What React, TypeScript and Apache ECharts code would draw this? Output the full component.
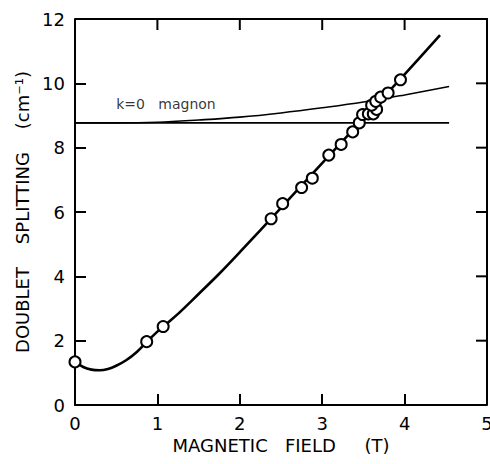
import React, { useEffect, useRef } from "react";
import * as echarts from "echarts";

// Measured doublet splitting (circles)
const obsField = [0, 0.87, 1.07, 2.38, 2.52, 2.75, 2.88, 3.08, 3.23, 3.37, 3.45, 3.49, 3.56, 3.62, 3.66, 3.6, 3.65, 3.71, 3.8, 3.95];
const obsSplit = [1.34, 1.97, 2.44, 5.79, 6.26, 6.76, 7.05, 7.77, 8.1, 8.49, 8.77, 9.03, 9.05, 9.05, 9.19, 9.32, 9.44, 9.57, 9.7, 10.11];

// Fitted curve
const fitField = [0, 0.1, 0.2, 0.3, 0.4, 0.5, 0.62, 0.75, 0.87, 1.0, 1.1, 1.27, 1.5, 1.75, 2.0, 2.5, 3.0, 3.5, 4.0, 4.43];
const fitSplit = [1.35, 1.18, 1.1, 1.08, 1.12, 1.22, 1.39, 1.65, 1.96, 2.28, 2.5, 2.88, 3.45, 4.08, 4.75, 6.13, 7.52, 8.9, 10.28, 11.5];

// k=0 magnon curve
const magField = [0, 0.5, 1.0, 1.5, 2.0, 2.5, 3.0, 3.5, 4.0, 4.54];
const magSplit = [8.77, 8.77, 8.79, 8.86, 8.95, 9.08, 9.24, 9.42, 9.64, 9.9];

// Flat reference level
const flatField = [0, 4.54];
const flatSplit = [8.77, 8.77];

const xTicks = [0, 1, 2, 3, 4, 5];
const yTicks = [0, 2, 4, 6, 8, 10, 12];
const magnonLabel = "k=0   magnon";
const magnonLabelAt = [0.5, 9.35];

const FONT = "DejaVu Sans";

export default function App() {
  const ref = useRef<HTMLDivElement>(null);
  useEffect(() => {
    if (!ref.current) return;
    const chart = echarts.init(ref.current, undefined, { renderer: "svg" });
    const mkLine = () => ({ show: true, onZero: false, lineStyle: { color: "#000", width: 2 } });
    const mkTick = () => ({ show: true, inside: true, length: 11, lineStyle: { color: "#000", width: 2 } });
    const pair = (xs: number[], ys: number[]) => xs.map((x, i) => [x, ys[i]]);
    const xMin = xTicks[0];
    const xMax = xTicks[xTicks.length - 1];
    const yMin = yTicks[0];
    const yMax = yTicks[yTicks.length - 1];
    chart.setOption({
      animation: false,
      grid: {
        left: 75,
        right: 3,
        top: 19,
        bottom: 59,
        containLabel: false,
        outerBoundsMode: "none",
      },
      xAxis: [
        {
          type: "value",
          min: xMin,
          max: xMax,
          interval: 1,
          position: "bottom",
          axisLine: mkLine(),
          axisTick: mkTick(),
          splitLine: { show: false },
          axisLabel: { color: "#000", fontSize: 18, fontFamily: FONT, margin: 9 },
          name: "MAGNETIC   FIELD     (T)",
          nameLocation: "middle",
          nameGap: 30,
          nameTextStyle: { color: "#000", fontSize: 18, fontFamily: FONT },
        },
      ],
      yAxis: [
        {
          type: "value",
          min: yMin,
          max: yMax,
          interval: 2,
          position: "left",
          axisLine: mkLine(),
          axisTick: mkTick(),
          splitLine: { show: false },
          axisLabel: { color: "#000", fontSize: 18, fontFamily: FONT, margin: 10 },
          name: "DOUBLET    SPLITTING    (cm⁻¹)",
          nameLocation: "middle",
          nameGap: 35,
          nameTextStyle: { color: "#000", fontSize: 18, fontFamily: FONT },
        },
      ],
      series: [
        {
          type: "line",
          data: pair(flatField, flatSplit),
          showSymbol: false,
          lineStyle: { color: "#000", width: 1.6 },
          z: 2,
        },
        {
          type: "line",
          data: pair(magField, magSplit),
          smooth: 0.4,
          showSymbol: false,
          lineStyle: { color: "#000", width: 1.6 },
          z: 2,
        },
        {
          type: "line",
          data: pair(fitField, fitSplit),
          smooth: 0.4,
          showSymbol: false,
          lineStyle: { color: "#000", width: 2.6 },
          z: 3,
        },
        {
          type: "scatter",
          data: pair(obsField, obsSplit),
          symbol: "circle",
          symbolSize: 11,
          itemStyle: { color: "#fff", borderColor: "#000", borderWidth: 2, opacity: 1 },
          z: 5,
        },
        {
          type: "scatter",
          data: [magnonLabelAt],
          symbolSize: 0,
          silent: true,
          label: {
            show: true,
            position: "right",
            distance: 0,
            formatter: magnonLabel,
            color: "#000",
            fontSize: 14,
            fontFamily: FONT,
          },
          z: 6,
        },
      ],
    });

    // Top and right frame edges with inward ticks, placed through the axes' scales
    const toPx = (v: number[]) => chart.convertToPixel({ gridIndex: 0 }, v) as number[];
    const tl = toPx([xMin, yMax]);
    const tr = toPx([xMax, yMax]);
    const br = toPx([xMax, yMin]);
    const stroke = { stroke: "#000", lineWidth: 2 };
    const frame: any[] = [
      {
        type: "polyline",
        silent: true,
        z: 100,
        shape: { points: [tl, tr, br] },
        style: { ...stroke, fill: null },
      },
    ];
    xTicks.slice(1, -1).forEach((x) => {
      const p = toPx([x, yMax]);
      frame.push({ type: "line", silent: true, z: 100, shape: { x1: p[0], y1: p[1], x2: p[0], y2: p[1] + 11 }, style: stroke });
    });
    yTicks.slice(1, -1).forEach((y) => {
      const p = toPx([xMax, y]);
      frame.push({ type: "line", silent: true, z: 100, shape: { x1: p[0], y1: p[1], x2: p[0] - 11, y2: p[1] }, style: stroke });
    });
    chart.setOption({ graphic: frame });

    return () => chart.dispose();
  }, []);
  return <div ref={ref} style={{ width: 490, height: 464, position: "absolute", left: 0, top: 0 }} />;
}
